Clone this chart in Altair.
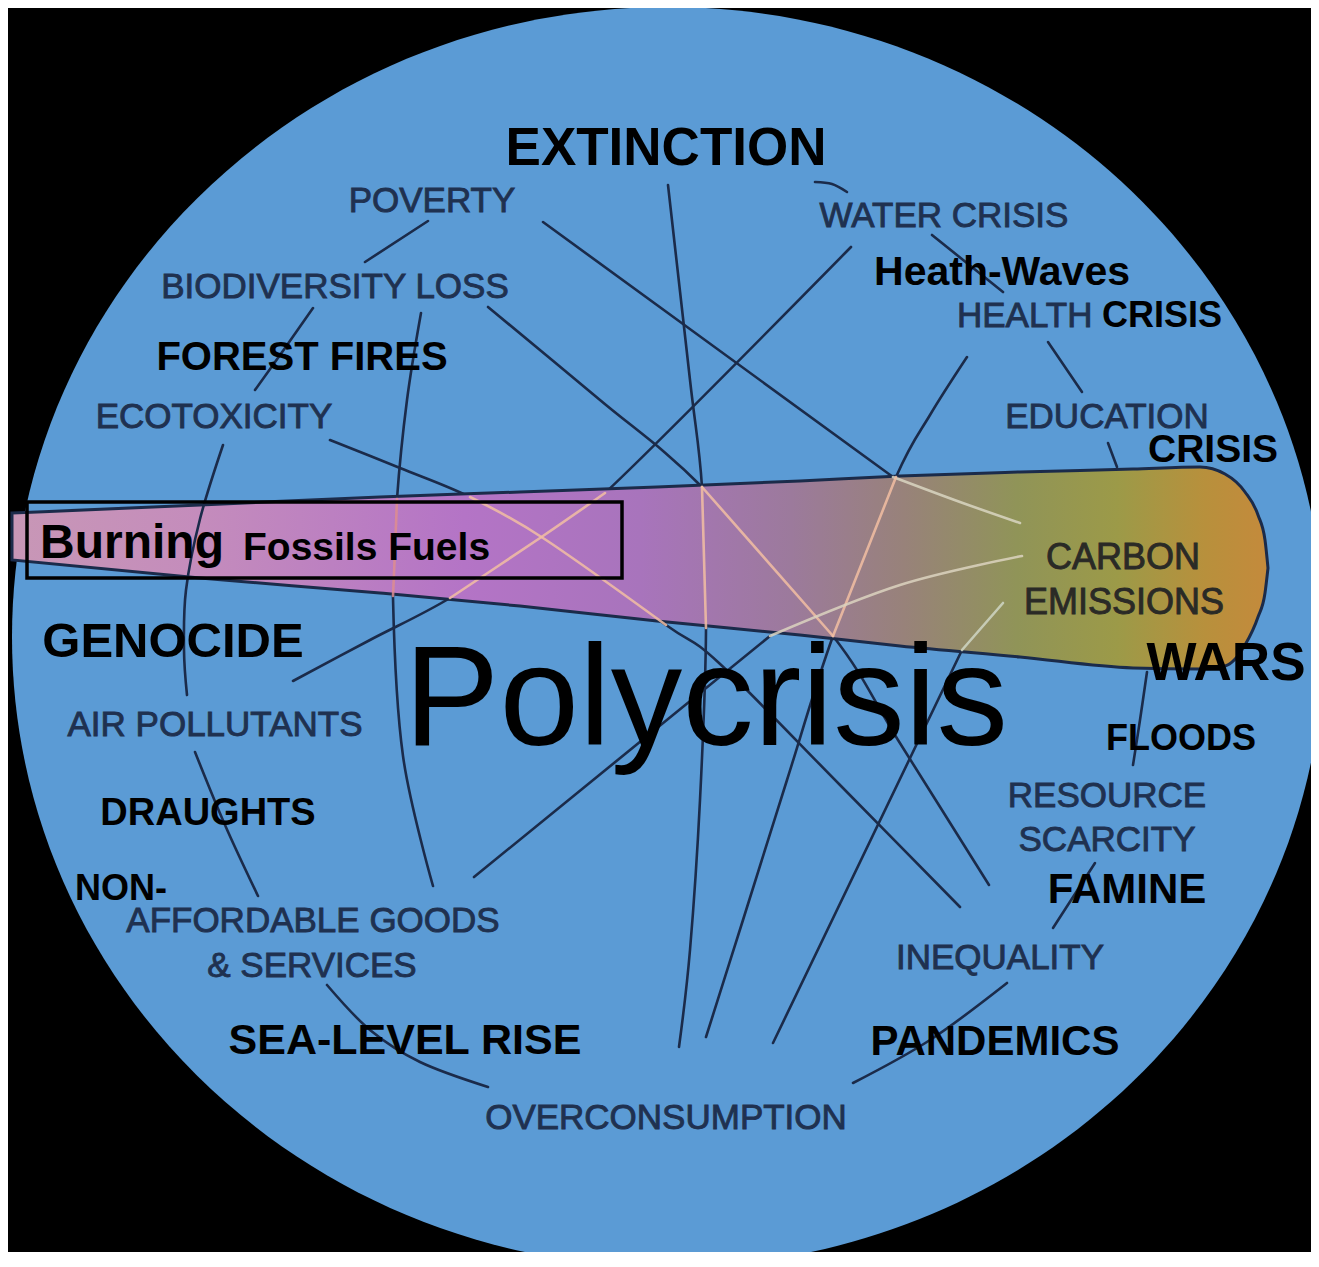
import altair as alt
import pandas as pd

# ---------------- data (reference pixel coordinates) ----------------
ellipse_cx = [668]
ellipse_cy = [637]

cone_x      = [12, 200, 380, 520, 657, 800, 900, 1020, 1133, 1200, 1225, 1245, 1258, 1265, 1268]
cone_top    = [513, 505, 497, 492, 487, 481, 476, 472, 469, 467, 474, 492, 515, 540, 568]
cone_bottom = [560, 578, 593, 606, 621, 635, 646, 657, 668, 669, 666, 645, 617, 593, 568]

dark_links = {
    "poverty-biodiv": [(428, 221), (365, 262)],
    "biodiv-ecotox": [(313, 308), (285, 348), (255, 390)],
    "air-nonaff": [(195, 752), (225, 825), (258, 896)],
    "services-overcons": [(327, 985), (370, 1030), (420, 1062), (488, 1087)],
    "overcons-ineq": [(853, 1083), (930, 1040), (1007, 983)],
    "ineq-resource": [(1053, 928), (1095, 863)],
    "floods": [(1147, 672), (1140, 720), (1133, 765)],
    "edu-cone": [(1108, 443), (1117, 467)],
    "health-edu": [(1048, 342), (1082, 392)],
    "water-health": [(932, 235), (1003, 292)],
    "extinction-water": [(815, 182), (832, 184), (847, 192)],
    "biodiv-curve": [(421, 313), (407, 400), (397, 499), (393, 598), (403, 756), (433, 886)],
    "poverty-long": [(543, 222), (893, 477)],
    "extinction-long": [(668, 185), (690, 380), (702, 487), (706, 630), (700, 800), (690, 950), (679, 1047)],
    "biodiv-diag": [(488, 307), (600, 400), (702, 487), (833, 636), (898, 740), (989, 885)],
    "water-long": [(851, 247), (605, 493), (540, 538), (450, 598), (370, 640), (293, 681)],
    "ecotox-long": [(330, 440), (400, 468), (470, 497), (543, 538), (666, 625), (719, 663), (840, 785), (960, 907)],
    "health-long": [(967, 357), (930, 415), (896, 477), (833, 636), (787, 780), (743, 920), (706, 1037)],
    "nonaff-long": [(474, 877), (770, 636)],
    "carbon-long": [(773, 1043), (962, 650)],
}
over_links = {
    "ecotox-air": [(223, 445), (200, 519), (186, 590), (184, 650), (187, 695)],
}
light_links = {
    "biodiv-curve": [(397, 499), (395, 550), (393, 596)],
    "poverty-long": [(893, 477), (960, 502), (1020, 523)],
    "extinction-long": [(702, 487), (706, 628)],
    "biodiv-diag": [(702, 487), (833, 636)],
    "water-long": [(605, 493), (540, 538), (450, 598)],
    "ecotox-long": [(470, 497), (543, 538), (666, 625)],
    "health-long": [(896, 477), (833, 636)],
    "nonaff-long": [(770, 636), (900, 585), (1022, 556)],
    "carbon-long": [(962, 650), (1003, 603)],
}

box_x = [27]; box_x2 = [622]; box_y = [502]; box_y2 = [578]

gray_text = ["POVERTY", "BIODIVERSITY LOSS", "ECOTOXICITY", "AIR POLLUTANTS", "AFFORDABLE GOODS",
             "& SERVICES", "OVERCONSUMPTION", "INEQUALITY", "RESOURCE", "SCARCITY", "EDUCATION",
             "WATER CRISIS"]
gray_x = [432, 335, 214, 215, 313, 312, 666, 1000, 1107, 1107, 1107, 944]
gray_y = [212, 298, 428, 736, 932, 977, 1129, 969, 807, 851, 428, 227]

gray_left_text = ["HEALTH"]
gray_left_x = [957]
gray_left_y = [327]

carbon_text = ["CARBON", "EMISSIONS"]
carbon_x = [1123, 1124]
carbon_y = [569, 614]

bold_text = ["EXTINCTION", "Heath-Waves", "FOREST FIRES", "CRISIS", "GENOCIDE", "WARS", "FLOODS",
             "DRAUGHTS", "FAMINE", "SEA-LEVEL RISE", "PANDEMICS"]
bold_x = [666, 1002, 302, 1213, 173, 1226, 1181, 208, 1127, 405, 995]
bold_y = [165, 285, 370, 462, 657, 680, 750, 825, 903, 1054, 1055]
bold_size = [53, 41, 40, 39, 49, 53, 36, 38, 42, 43, 42]

bold_left_text = ["CRISIS", "Burning", "Fossils Fuels", "NON-"]
bold_left_x = [1102, 40, 243, 75]
bold_left_y = [327, 558, 560, 900]
bold_left_size = [36, 48, 39, 36]

title_text = ["Polycrisis"]
title_x = [706]
title_y = [745]

# ---------------- styling ----------------
W, H = 1303, 1244
FONT = "Liberation Sans, Arial, Helvetica, sans-serif"
BLUE = "#5b9bd5"
NAVY = "#1b2b4a"
GRAY_TXT = "#1f3150"
light_colors = {
    "biodiv-curve": "#dd8d8f",
    "poverty-long": "#d9d6c2",
    "nonaff-long": "#dcd4c0",
    "carbon-long": "#cfd6c4",
}
LIGHT_DEFAULT = "#f2bea2"

xs = alt.Scale(domain=[8, 8 + W], nice=False, zero=False)
ys = alt.Scale(domain=[8, 8 + H], nice=False, zero=False, reverse=True)


def X(f="x"):
    return alt.X(f"{f}:Q", scale=xs, axis=None)


def Y(f="y"):
    return alt.Y(f"{f}:Q", scale=ys, axis=None)


def paths_df(d, colors=None, default=NAVY):
    rows = []
    for key, pts in d.items():
        col = (colors or {}).get(key, default)
        for i, (px, py) in enumerate(pts):
            rows.append({"id": key, "o": i, "x": px, "y": py, "c": col})
    return pd.DataFrame(rows)


k = 630 / 656
c = 0.5523
ellipse_path = (
    f"M1,0 C1,{c*k:.4f} {c:.4f},{k:.4f} 0,{k:.4f} "
    f"C{-c:.4f},{k:.4f} -1,{c*k:.4f} -1,0 "
    f"C-1,{-c*k:.4f} {-c:.4f},{-k:.4f} 0,{-k:.4f} "
    f"C{c:.4f},{-k:.4f} 1,{-c*k:.4f} 1,0 Z"
)

ellipse = alt.Chart(pd.DataFrame({"x": ellipse_cx, "y": ellipse_cy})).mark_point(
    shape=ellipse_path, size=(2 * 656) ** 2, filled=True, color=BLUE, opacity=1, strokeWidth=0
).encode(x=X(), y=Y())

dark = alt.Chart(paths_df(dark_links)).mark_line(
    interpolate="cardinal", strokeWidth=2.6, strokeCap="round"
).encode(x=X(), y=Y(), detail="id:N", order="o:Q", color=alt.Color("c:N", scale=None))

gradient = alt.LinearGradient(
    gradient="linear",
    stops=[
        alt.GradientStop(color="#c897b6", offset=0.0),
        alt.GradientStop(color="#c48cbc", offset=0.15),
        alt.GradientStop(color="#b474c6", offset=0.36),
        alt.GradientStop(color="#a874bc", offset=0.5),
        alt.GradientStop(color="#9c7a9c", offset=0.62),
        alt.GradientStop(color="#98827a", offset=0.71),
        alt.GradientStop(color="#909458", offset=0.8),
        alt.GradientStop(color="#9c9a48", offset=0.88),
        alt.GradientStop(color="#b8903c", offset=0.95),
        alt.GradientStop(color="#c48a3c", offset=1.0),
    ],
    x1=0, x2=1, y1=0, y2=0,
)

cone = alt.Chart(pd.DataFrame({"x": cone_x, "top": cone_top, "bottom": cone_bottom})).mark_area(
    color=gradient, stroke=NAVY, strokeWidth=3, interpolate="monotone", opacity=1
).encode(x=X(), y=Y("top"), y2="bottom:Q")

light = alt.Chart(paths_df(light_links, light_colors, LIGHT_DEFAULT)).mark_line(
    interpolate="cardinal", strokeWidth=2.6, strokeCap="round", opacity=0.85
).encode(x=X(), y=Y(), detail="id:N", order="o:Q", color=alt.Color("c:N", scale=None))

over = alt.Chart(paths_df(over_links)).mark_line(
    interpolate="cardinal", strokeWidth=2.6, strokeCap="round"
).encode(x=X(), y=Y(), detail="id:N", order="o:Q", color=alt.Color("c:N", scale=None))

box = alt.Chart(pd.DataFrame({"x": box_x, "x2": box_x2, "y": box_y, "y2": box_y2})).mark_rect(
    fillOpacity=0, stroke="black", strokeWidth=3.5
).encode(x=X(), x2="x2:Q", y=Y(), y2="y2:Q")


def text_layer(texts, xs_, ys_, sizes, align, weight, color, stroke_w=0.0):
    df = pd.DataFrame({"t": texts, "x": xs_, "y": ys_, "s": sizes})
    props = dict(align=align, baseline="alphabetic", font=FONT, fontWeight=weight, color=color)
    if stroke_w > 0:
        props.update(stroke=color, strokeWidth=stroke_w)
    return alt.Chart(df).mark_text(**props).encode(
        x=X(), y=Y(), text="t:N", size=alt.Size("s:Q", scale=None)
    )


t_gray = text_layer(gray_text, gray_x, gray_y, [35] * len(gray_text), "center", "normal", GRAY_TXT, 0.9)
t_gray_l = text_layer(gray_left_text, gray_left_x, gray_left_y, [35], "left", "normal", GRAY_TXT, 0.9)
t_carbon = text_layer(carbon_text, carbon_x, carbon_y, [36, 36], "center", "normal", "#2a2a26", 0.9)
t_bold = text_layer(bold_text, bold_x, bold_y, bold_size, "center", "bold", "black")
t_bold_l = text_layer(bold_left_text, bold_left_x, bold_left_y, bold_left_size, "left", "bold", "black")
t_title = text_layer(title_text, title_x, title_y, [143], "center", "normal", "black")

chart = alt.layer(
    ellipse, dark, cone, light, over, box, t_gray, t_gray_l, t_carbon, t_bold, t_bold_l, t_title
).properties(
    width=W, height=H, autosize="none", padding=0
).configure(background="black").configure_view(strokeWidth=0)

chart.save("out.html", embed_options={"renderer": "svg", "actions": False})
